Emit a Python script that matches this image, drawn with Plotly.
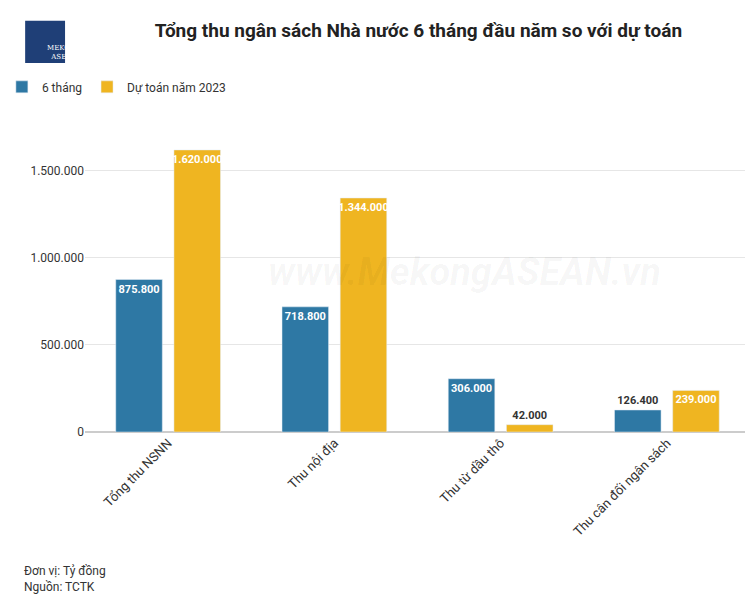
import plotly.graph_objects as go

categories = ["Tổng thu NSNN", "Thu nội địa", "Thu từ dầu thô", "Thu cân đối ngân sách"]
six_months = [875800, 718800, 306000, 126400]
budget_2023 = [1620000, 1344000, 42000, 239000]
tick_vals = [0, 500000, 1000000, 1500000]
tick_text = ["0", "500.000", "1.000.000", "1.500.000"]

def fmt(v):
    return "<b>" + f"{v:,}".replace(",", ".") + "</b>"

def positions(vals):
    return ["inside" if v > 150000 else "outside" for v in vals]

def colors(vals):
    return ["white" if v > 150000 else "#333333" for v in vals]

fig = go.Figure()
for name, vals, col in [("6 tháng", six_months, "#2e78a4"), ("Dự toán năm 2023", budget_2023, "#efb521")]:
    fig.add_bar(name=name, x=categories, y=vals, marker_color=col,
                text=[fmt(v) for v in vals], textposition=positions(vals),
                insidetextanchor="end", textangle=0, constraintext="none",
                textfont=dict(color=colors(vals), size=11, family="Roboto"), cliponaxis=False)

fig.update_layout(
    width=753, height=600, plot_bgcolor="white", paper_bgcolor="white",
    font=dict(family="Roboto", size=12, color="#333"),
    margin=dict(l=77, r=11, t=128, b=176, autoexpand=False),
    barmode="group", bargap=0.30, bargroupgap=0.2,
    title=dict(text="<b>Tổng thu ngân sách Nhà nước 6 tháng đầu năm so với dự toán</b>",
               x=0.545, xanchor="center", y=0.962, yanchor="middle", font=dict(size=19, color="#222")),
    legend=dict(orientation="h", x=-0.125, xanchor="left",
                y=1.166, yanchor="middle",
                font=dict(size=12), itemwidth=30, tracegroupgap=0),
    uniformtext=dict(minsize=8),
)
fig.update_yaxes(range=[0, 1700000], tickvals=tick_vals, ticktext=tick_text,
                 gridcolor="#e6e6e6", zeroline=True, zerolinecolor="#cccccc",
                 tickfont=dict(size=12, color="#333"))
fig.update_xaxes(tickangle=-45, tickfont=dict(size=13, color="#333"), showline=False)

fig.add_annotation(text="<b><i>www.MekongASEAN.vn</i></b>", xref="paper", yref="paper", x=0.57, y=0.54,
                   showarrow=False, font=dict(size=38, color="rgba(0,0,0,0.04)", family="Roboto"))
fig.add_annotation(text="Đơn vị: Tỷ đồng<br>Nguồn: TCTK", xref="paper", yref="paper",
                   x=-0.095, y=-0.44, xanchor="left", yanchor="top", align="left",
                   showarrow=False, font=dict(size=12, color="#333"))
fig.add_shape(type="rect", xref="paper", yref="paper", x0=-0.09, x1=-0.03, y0=1.247, y1=1.389,
              fillcolor="#1f3f77", line_width=0)
fig.add_annotation(text="MEKONG<br>ASEAN", xref="paper", yref="paper",
                   x=-0.06, y=1.318, showarrow=False, align="center",
                   font=dict(size=7, color="white", family="DejaVu Serif"))

fig.write_html("out.html")
